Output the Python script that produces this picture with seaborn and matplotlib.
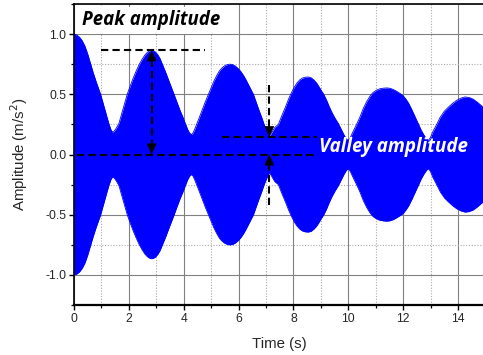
import numpy as np
import pandas as pd
import matplotlib
matplotlib.use("Agg")
import matplotlib.pyplot as plt
import seaborn as sns
from matplotlib.ticker import MultipleLocator

# ---- data (upper envelope of the vibration signal) ----
time_s = [0.0, 0.1, 0.2, 0.3, 0.4, 0.5, 0.61, 0.7, 0.8, 0.9, 0.97, 1.05, 1.13, 1.2,
          1.28, 1.34, 1.39, 1.43,
          1.5, 1.57, 1.64, 1.79, 1.94, 2.05, 2.15, 2.26, 2.37, 2.48, 2.58, 2.68, 2.76,
          2.82, 2.88, 2.96, 3.05, 3.13, 3.22, 3.33, 3.43, 3.54, 3.65, 3.76, 3.86, 3.97,
          4.07, 4.14, 4.21, 4.28,
          4.34, 4.4, 4.47, 4.58, 4.68, 4.79, 4.9, 5.0, 5.1, 5.2, 5.3, 5.4, 5.5, 5.6,
          5.69, 5.78, 5.88, 5.98, 6.08, 6.17, 6.26, 6.35, 6.45, 6.54, 6.64, 6.74, 6.84,
          6.93, 7.0, 7.06, 7.12,
          7.18, 7.24, 7.32, 7.45, 7.57, 7.7, 7.82, 7.93, 8.03, 8.13, 8.23, 8.33, 8.43,
          8.54, 8.64, 8.74, 8.84, 8.94, 9.03, 9.09, 9.2, 9.3, 9.4, 9.52, 9.64, 9.74,
          9.85, 9.93, 10.0,
          10.07, 10.15, 10.3, 10.42, 10.55, 10.67, 10.79, 10.9, 11.03, 11.15, 11.28,
          11.4, 11.52, 11.64, 11.76, 11.88, 12.0, 12.1, 12.2, 12.32, 12.44, 12.55,
          12.66, 12.76, 12.85, 12.92,
          12.99, 13.08, 13.22, 13.35, 13.5, 13.65, 13.8, 13.95, 14.1, 14.25, 14.4,
          14.55, 14.7, 14.85, 14.91, 15.0]
upper_env = [1.0, 0.993, 0.975, 0.945, 0.9, 0.835, 0.75, 0.68, 0.61, 0.545, 0.5, 0.435,
             0.37, 0.31, 0.25, 0.21, 0.19, 0.186,
             0.205, 0.23, 0.26, 0.38, 0.5, 0.57, 0.63, 0.69, 0.745, 0.79, 0.825, 0.85,
             0.862, 0.865, 0.863, 0.853, 0.83, 0.8, 0.75, 0.69, 0.63, 0.565, 0.5, 0.43,
             0.37, 0.31, 0.25, 0.21, 0.18, 0.165,
             0.18, 0.21, 0.25, 0.315, 0.375, 0.44, 0.5, 0.555, 0.61, 0.655, 0.695, 0.72,
             0.738, 0.748, 0.75, 0.747, 0.735, 0.715, 0.69, 0.66, 0.625, 0.585, 0.54,
             0.5, 0.435, 0.37, 0.31, 0.25, 0.21, 0.18, 0.15,
             0.17, 0.195, 0.225, 0.25, 0.32, 0.39, 0.46, 0.515, 0.56, 0.595, 0.62, 0.635,
             0.642, 0.644, 0.638, 0.62, 0.595, 0.56, 0.525, 0.505, 0.455, 0.4, 0.35, 0.3,
             0.256, 0.21, 0.16, 0.13, 0.117,
             0.14, 0.18, 0.25, 0.31, 0.385, 0.44, 0.485, 0.515, 0.535, 0.546, 0.551, 0.553,
             0.55, 0.54, 0.525, 0.508, 0.488, 0.46, 0.425, 0.37, 0.31, 0.256, 0.2, 0.16,
             0.13, 0.117,
             0.14, 0.19, 0.25, 0.31, 0.36, 0.394, 0.425, 0.45, 0.468, 0.478, 0.474, 0.46,
             0.435, 0.405, 0.394, 0.37]
lower_env = [-v for v in upper_env]

peak_time, peak_amp = 2.83, 0.865
valley_time, valley_amp = 7.12, 0.145

x_ticks = [0, 2, 4, 6, 8, 10, 12, 14]
y_ticks = [-1.0, -0.5, 0.0, 0.5, 1.0]
y_ticklabels = ["-1.0", "-0.5", "0.0", "0.5", "1.0"]

df = pd.DataFrame({"Time (s)": time_s, "upper": upper_env, "lower": lower_env})

sns.set_theme(style="white")
plt.rcParams["font.family"] = ["Liberation Sans", "DejaVu Sans"]
plt.rcParams["axes.unicode_minus"] = False

fig = plt.figure(figsize=(4.83, 3.55), dpi=100)
ax = fig.add_axes([0.1532, 0.1408, 0.852, 0.8479])

blue = "#0000FF"
ax.fill_between(df["Time (s)"], df["lower"], df["upper"], color=blue, lw=0, zorder=2)
sns.lineplot(data=df, x="Time (s)", y="upper", color=blue, lw=0.6, ax=ax, zorder=2)
sns.lineplot(data=df, x="Time (s)", y="lower", color=blue, lw=0.6, ax=ax, zorder=2)

ax.set_xlim(0, 15)
ax.set_ylim(-1.25, 1.25)
ax.set_xticks(x_ticks)
ax.set_xticklabels([str(v) for v in x_ticks])
ax.set_yticks(y_ticks)
ax.set_yticklabels(y_ticklabels)
ax.xaxis.set_minor_locator(MultipleLocator(1))
ax.yaxis.set_minor_locator(MultipleLocator(0.25))

ax.grid(which="major", color="#808080", lw=0.8, ls="-", zorder=0)
ax.grid(which="minor", color="#aaaaaa", lw=0.8, ls=(0, (1, 1.5)), zorder=0)
ax.set_axisbelow(True)

for s in ["left", "bottom", "top", "right"]:
    ax.spines[s].set_color("black")
ax.spines["left"].set_linewidth(1.2)
ax.spines["bottom"].set_linewidth(1.6)
ax.spines["top"].set_linewidth(1.2)

ax.tick_params(axis="both", which="major", direction="out", length=3.5, width=1.0,
               labelsize=8.7, color="black", pad=2,
               bottom=True, left=True, top=False, right=False)
ax.tick_params(axis="both", which="minor", direction="out", length=2.5, width=0.9,
               color="black", bottom=True, left=True, top=False, right=False)

ax.set_xlabel("Time (s)", fontsize=10.8, labelpad=9)
ax.set_ylabel("Amplitude (m/s$^2$)", fontsize=10.8, labelpad=11)

# ---- annotations ----
dash = (0, (3.5, 2))
lw = 1.5
ax.plot([1.0, 4.78], [peak_amp, peak_amp], color="black", lw=lw, ls=dash, zorder=4)
ax.plot([0.1, 8.87], [0.0, 0.0], color="black", lw=lw, ls=dash, zorder=4)
ax.plot([5.38, 8.87], [valley_amp, valley_amp], color="black", lw=lw, ls=dash, zorder=4)
ax.plot([peak_time, peak_time], [0.06, peak_amp - 0.06], color="black", lw=lw, ls=dash, zorder=4)
ax.plot([valley_time, valley_time], [0.575, valley_amp + 0.06], color="black", lw=lw, ls=dash, zorder=4)
ax.plot([valley_time, valley_time], [-0.42, -0.06], color="black", lw=lw, ls=dash, zorder=4)

def head(x, y_tip, y_from):
    ax.annotate("", xy=(x, y_tip), xytext=(x, y_from),
                arrowprops=dict(arrowstyle="-|>,head_length=1.0,head_width=0.45",
                                mutation_scale=7, color="black", lw=0.5,
                                shrinkA=0, shrinkB=0), zorder=5)

head(peak_time, peak_amp, peak_amp - 0.1)
head(peak_time, 0.0, 0.1)
head(valley_time, valley_amp, valley_amp + 0.1)
head(valley_time, 0.0, -0.1)

ax.text(2.8, 1.115, "Peak amplitude", fontsize=13.4, fontweight="bold", fontstyle="italic",
        family=["Open Sans", "DejaVu Sans"], color="black", ha="center", va="center",
        zorder=6, bbox=dict(boxstyle="square,pad=0.2", fc="white", ec="none"))
ax.text(11.65, 0.065, "Valley amplitude", fontsize=13.5, fontweight="bold", fontstyle="italic",
        family=["Open Sans", "DejaVu Sans"], color="white", ha="center", va="center", zorder=6)

fig.savefig("out.png", dpi=100)
